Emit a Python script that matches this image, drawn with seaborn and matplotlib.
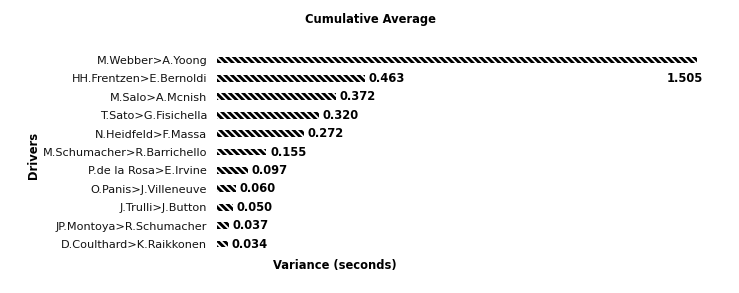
import matplotlib
matplotlib.use("Agg")
import matplotlib.pyplot as plt
import seaborn as sns
import pandas as pd

drivers = ["M.Webber>A.Yoong", "HH.Frentzen>E.Bernoldi", "M.Salo>A.Mcnish",
           "T.Sato>G.Fisichella", "N.Heidfeld>F.Massa", "M.Schumacher>R.Barrichello",
           "P.de la Rosa>E.Irvine", "O.Panis>J.Villeneuve", "J.Trulli>J.Button",
           "JP.Montoya>R.Schumacher", "D.Coulthard>K.Raikkonen"]
variance = [1.505, 0.463, 0.372, 0.320, 0.272, 0.155, 0.097, 0.060, 0.050, 0.037, 0.034]

df = pd.DataFrame({"Drivers": drivers, "Variance": variance})

sns.set_style("white")
plt.rcParams['font.family'] = ['DejaVu Sans']
plt.rcParams['hatch.linewidth'] = 1.3
plt.rcParams['text.color'] = 'black'
plt.rcParams['axes.labelcolor'] = 'black'

W, H = 739, 293
fig = plt.figure(figsize=(W / 100, H / 100), dpi=100)
left, right = 217 / W, 697 / W
top, bottom = 1 - 50.8 / H, 1 - 253.2 / H
ax = fig.add_axes([left, bottom, right - left, top - bottom])

sns.barplot(data=df, x="Variance", y="Drivers", orient="h", ax=ax,
            color="black", width=0.36, saturation=1)
for p in ax.patches:
    p.set_facecolor("black")
    p.set_edgecolor("white")
    p.set_hatch("\\" * 5)
    p.set_linewidth(0)

ax.set_xlim(0, max(variance))
ax.set_ylim(len(drivers) - 0.5, -0.5)
for s in ax.spines.values():
    s.set_visible(False)
ax.set_xticks([])
ax.tick_params(axis="y", length=0, pad=7, labelsize=8.1, labelcolor="#111111")

FS = 8.3
for i, v in enumerate(variance):
    if i == 0:
        ax.text(v + 0.02, i + 1, f"{v:.3f}", ha="right", va="center",
                fontsize=FS, fontweight="bold", clip_on=False)
    else:
        ax.text(v + 0.012, i, f"{v:.3f}", ha="left", va="center",
                fontsize=FS, fontweight="bold", clip_on=False)

ax.set_xlabel("Variance (seconds)", fontsize=FS, fontweight="bold")
ax.set_ylabel("Drivers", fontsize=FS, fontweight="bold")
ax.xaxis.set_label_coords((335 / W - left) / (right - left), (1 - 265 / H - bottom) / (top - bottom))
ax.yaxis.set_label_coords((33 / W - left) / (right - left), (1 - 155 / H - bottom) / (top - bottom))
for lbl in (ax.xaxis.label, ax.yaxis.label):
    lbl.set_verticalalignment("center")
ax.yaxis.label.set_horizontalalignment("center")
fig.text(370 / W, 1 - 20 / H, "Cumulative Average", ha="center", va="center",
         fontsize=FS, fontweight="bold")

fig.savefig("out.png", dpi=100)
